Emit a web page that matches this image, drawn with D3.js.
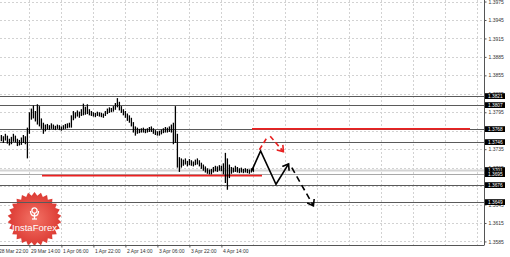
<!DOCTYPE html>
<html>
<head>
<meta charset="utf-8">
<script src="https://cdn.jsdelivr.net/npm/d3@7"></script>
<style>
  html, body { margin: 0; padding: 0; background: #fff; }
  svg { display: block; }
  text { font-family: "Liberation Sans", Arial, sans-serif; }
</style>
</head>
<body>
<svg id="chart" width="510" height="257"></svg>
<script>
// hourly bars, index 0 = 28 Mar 22:00
var highs = [
  1.3757, 1.3758, 1.3756, 1.3760, 1.3757, 1.3752, 1.3755, 1.3760, 1.3757, 1.3752, 1.3750, 1.3754, 1.3758, 1.3756,
  1.3770, 1.3795, 1.3801, 1.3806, 1.3797, 1.3808, 1.3805, 1.3785, 1.3778, 1.3775,
  1.3776, 1.3774, 1.3777, 1.3775, 1.3773, 1.3775, 1.3774, 1.3772, 1.3774, 1.3776, 1.3777, 1.3778,
  1.3790, 1.3797, 1.3795, 1.3798, 1.3796, 1.3800, 1.3809, 1.3804, 1.3808, 1.3800,
  1.3797, 1.3795, 1.3794, 1.3796, 1.3795, 1.3794, 1.3793, 1.3797, 1.3801, 1.3803, 1.3802, 1.3805, 1.3810, 1.3818,
  1.3812, 1.3805, 1.3800, 1.3797, 1.3793, 1.3790, 1.3786, 1.3779, 1.3772,
  1.3770, 1.3768, 1.3769, 1.3770, 1.3768, 1.3769, 1.3771, 1.3772, 1.3769, 1.3766, 1.3764, 1.3765, 1.3767, 1.3769,
  1.3771, 1.3770, 1.3772, 1.3775, 1.3778, 1.3805, 1.3760, 1.3722, 1.3720,
  1.3718, 1.3720, 1.3716, 1.3719, 1.3717, 1.3715, 1.3718, 1.3720, 1.3717, 1.3713, 1.3710, 1.3707, 1.3704, 1.3702,
  1.3703, 1.3706, 1.3708, 1.3707, 1.3709, 1.3708, 1.3712, 1.3729, 1.3720, 1.3710,
  1.3706, 1.3705, 1.3708, 1.3706, 1.3704, 1.3705, 1.3703, 1.3704, 1.3703, 1.3702, 1.3704, 1.3706
];
var lows = [
  1.3746, 1.3748, 1.3745, 1.3749, 1.3744, 1.3741, 1.3743, 1.3747, 1.3746, 1.3740, 1.3741, 1.3742, 1.3745, 1.3743,
  1.3720, 1.3760, 1.3783, 1.3785, 1.3780, 1.3775, 1.3772, 1.3768, 1.3760, 1.3764,
  1.3767, 1.3766, 1.3768, 1.3767, 1.3766, 1.3768, 1.3766, 1.3765, 1.3767, 1.3768, 1.3769, 1.3770,
  1.3770, 1.3782, 1.3785, 1.3788, 1.3786, 1.3789, 1.3790, 1.3791, 1.3792, 1.3790,
  1.3789, 1.3788, 1.3787, 1.3789, 1.3788, 1.3787, 1.3786, 1.3789, 1.3792, 1.3794, 1.3795, 1.3796, 1.3799, 1.3803,
  1.3798, 1.3794, 1.3790, 1.3786, 1.3781, 1.3778, 1.3772, 1.3762, 1.3757,
  1.3760, 1.3761, 1.3762, 1.3762, 1.3761, 1.3762, 1.3763, 1.3763, 1.3760, 1.3758, 1.3757, 1.3757, 1.3759, 1.3761,
  1.3762, 1.3762, 1.3763, 1.3762, 1.3743, 1.3745, 1.3705, 1.3698, 1.3705,
  1.3708, 1.3710, 1.3707, 1.3709, 1.3708, 1.3707, 1.3709, 1.3710, 1.3707, 1.3703, 1.3700, 1.3697, 1.3695, 1.3694,
  1.3694, 1.3697, 1.3699, 1.3698, 1.3700, 1.3699, 1.3694, 1.3680, 1.3669, 1.3688,
  1.3695, 1.3697, 1.3698, 1.3697, 1.3696, 1.3697, 1.3696, 1.3697, 1.3696, 1.3695, 1.3697, 1.3698
];

var timeTicks = [0, 16, 32, 48, 64, 80, 96, 112];
var timeLabels = ['28 Mar 22:00', '29 Mar 14:00', '1 Apr 06:00', '1 Apr 22:00', '2 Apr 14:00', '3 Apr 06:00', '3 Apr 22:00', '4 Apr 14:00'];
var gridIdx = [16, 32, 48, 64, 80, 96, 112, 128, 144, 160, 176, 192, 208, 224, 240];
var priceTicks = [1.3975, 1.3945, 1.3915, 1.3885, 1.3855, 1.3825, 1.3795, 1.3765, 1.3735, 1.3705, 1.3675, 1.3645, 1.3615, 1.3585];
// tick labels that sit fully under a level tag
var coveredTicks = [1.3765, 1.3675];

// horizontal levels and their tags on the price scale
var levels = [1.3821, 1.3807, 1.3768, 1.3746, 1.3701, 1.3695, 1.3676, 1.3649];
var levelTone = ['dark', 'dark', 'dark', 'dark', 'light', 'mid', 'dark', 'dark'];

// red levels: [fromIndex, toIndex, price]
var redLevels = [[127.3, 236.3, 1.3768], [22.3, 132.3, 1.3692]];

// forecast arrows: [index, price]
var blackPath = [[127.2, 1.3700], [131.6, 1.3732], [139.3, 1.3678], [145.6, 1.3711]];
var blackDash = [[147.2, 1.3705], [158.0, 1.3643]];
var redDash1 = [[131.0, 1.3734], [134.8, 1.3754]];
var redDash2 = [[136.4, 1.3756], [143.0, 1.3731]];

var plotRight = 484, plotBottom = 245;

var svg = d3.select('#chart');

var x = d3.scaleLinear().domain([0, 243.3]).range([-2.6, 484]);
var y = d3.scaleLinear().domain([1.35792, 1.39775]).range([plotBottom, 0]);

// grid
svg.append('g').selectAll('line')
  .data(priceTicks)
  .enter().append('line')
  .attr('x1', 0).attr('x2', plotRight)
  .attr('y1', function (d) { return Math.round(y(d)) + 0.5; })
  .attr('y2', function (d) { return Math.round(y(d)) + 0.5; })
  .attr('stroke', '#d2d2d2')
  .attr('stroke-dasharray', '2,2');

svg.append('g').selectAll('line')
  .data(gridIdx)
  .enter().append('line')
  .attr('x1', function (d) { return Math.round(x(d)) + 0.5; })
  .attr('x2', function (d) { return Math.round(x(d)) + 0.5; })
  .attr('y1', 0).attr('y2', plotBottom)
  .attr('stroke', '#d2d2d2')
  .attr('stroke-dasharray', '2,2');

// logo (drawn under the price lines)
var logo = svg.append('g').attr('transform', 'translate(34.5,219)');
var spikes = 26;
var star = d3.range(spikes * 2 + 1).map(function (k) {
  return [k * Math.PI / spikes, k % 2 ? 23.5 : 27];
});
var grad = svg.append('defs').append('radialGradient').attr('id', 'lg');
grad.append('stop').attr('offset', '0%').attr('stop-color', '#f37366');
grad.append('stop').attr('offset', '100%').attr('stop-color', '#dc3a33');
logo.append('path')
  .attr('d', d3.lineRadial().angle(function (d) { return d[0]; }).radius(function (d) { return d[1]; })(star))
  .attr('fill', 'url(#lg)');
var icon = logo.append('g').attr('transform', 'translate(0,-6)').attr('stroke', '#fff').attr('fill', 'none').attr('stroke-width', 1.3);
icon.append('circle').attr('cx', 0).attr('cy', -2.5).attr('r', 2.6);
icon.append('path').attr('d', 'M-4,-2 Q-4,3 0,3 Q4,3 4,-2');
icon.append('line').attr('x1', 0).attr('x2', 0).attr('y1', 0).attr('y2', 6);
icon.append('line').attr('x1', -2.5).attr('x2', 2.5).attr('y1', 6).attr('y2', 6);
logo.append('text')
  .attr('x', 0).attr('y', 12)
  .attr('text-anchor', 'middle')
  .attr('fill', '#fff')
  .attr('font-size', 9.5)
  .text('InstaForex');

// level lines
var toneColor = { dark: '#5a5a5a', mid: '#a8a8a8', light: '#d4d4d4' };
svg.append('g').selectAll('line')
  .data(levels)
  .enter().append('line')
  .attr('x1', 0).attr('x2', plotRight)
  .attr('y1', function (d) { return Math.round(y(d)) + 0.5; })
  .attr('y2', function (d) { return Math.round(y(d)) + 0.5; })
  .attr('stroke', function (d, i) { return toneColor[levelTone[i]]; })
  .attr('stroke-width', function (d, i) { return levelTone[i] == 'light' ? 2 : 1; });

svg.append('g').selectAll('line')
  .data(redLevels)
  .enter().append('line')
  .attr('x1', function (d) { return x(d[0]); })
  .attr('x2', function (d) { return x(d[1]); })
  .attr('y1', function (d) { return y(d[2]); })
  .attr('y2', function (d) { return y(d[2]); })
  .attr('stroke', '#ee2020')
  .attr('stroke-width', 1.6);

// price bars
svg.append('g').selectAll('line')
  .data(highs)
  .enter().append('line')
  .attr('x1', function (d, i) { return x(i + 1); })
  .attr('x2', function (d, i) { return x(i + 1); })
  .attr('y1', function (d) { return y(d); })
  .attr('y2', function (d, i) { return y(lows[i]); })
  .attr('stroke', '#000')
  .attr('stroke-width', 1.3);

// forecast arrows
var defs = svg.select('defs');
function arrowMarker(id, color) {
  defs.append('marker')
    .attr('id', id)
    .attr('viewBox', '-6 -5 8 10')
    .attr('refX', 0).attr('refY', 0)
    .attr('markerWidth', 8).attr('markerHeight', 10)
    .attr('markerUnits', 'userSpaceOnUse')
    .attr('orient', 'auto')
    .append('path')
    .attr('d', 'M-5.5,-4 L0,0 L-5.5,4')
    .attr('fill', 'none')
    .attr('stroke', color)
    .attr('stroke-width', 1.6);
}
arrowMarker('ab', '#000');
arrowMarker('ar', '#e82020');

var fLine = d3.line()
  .x(function (d) { return x(d[0]); })
  .y(function (d) { return y(d[1]); });

svg.append('path').attr('d', fLine(blackPath))
  .attr('fill', 'none').attr('stroke', '#000').attr('stroke-width', 1.6)
  .attr('marker-end', 'url(#ab)');
svg.append('path').attr('d', fLine(blackDash))
  .attr('fill', 'none').attr('stroke', '#000').attr('stroke-width', 1.6)
  .attr('stroke-dasharray', '6,4')
  .attr('marker-end', 'url(#ab)');
svg.append('path').attr('d', fLine(redDash1))
  .attr('fill', 'none').attr('stroke', '#e82020').attr('stroke-width', 1.6)
  .attr('stroke-dasharray', '5,3');
svg.append('path').attr('d', fLine(redDash2))
  .attr('fill', 'none').attr('stroke', '#e82020').attr('stroke-width', 1.6)
  .attr('stroke-dasharray', '5,3')
  .attr('marker-end', 'url(#ar)');

// axes
var yAxis = d3.axisRight(y)
  .tickValues(priceTicks)
  .tickFormat(function (d) { return coveredTicks.indexOf(d) >= 0 ? '' : d3.format('.4f')(d); })
  .tickSize(2)
  .tickPadding(2);

var yG = svg.append('g')
  .attr('transform', 'translate(' + (plotRight + 0.5) + ',0)')
  .call(yAxis);
yG.select('.domain').attr('stroke', '#555').attr('d', 'M0,0V' + plotBottom);
yG.selectAll('.tick line').attr('stroke', '#555');
yG.selectAll('text').attr('font-size', 5).attr('fill', '#333').attr('font-family', 'Liberation Sans, Arial, sans-serif');

var xAxis = d3.axisBottom(x)
  .tickValues(timeTicks)
  .tickFormat(function (d, i) { return timeLabels[i]; })
  .tickSize(2)
  .tickPadding(2);

var xG = svg.append('g')
  .attr('transform', 'translate(0,' + (plotBottom + 0.5) + ')')
  .call(xAxis);
xG.select('.domain').attr('stroke', '#555').attr('d', 'M0,0H' + (plotRight + 0.5));
xG.selectAll('.tick line').attr('stroke', '#555');
xG.selectAll('text')
  .attr('text-anchor', 'start')
  .attr('x', 1)
  .attr('font-size', 5)
  .attr('fill', '#333')
  .attr('font-family', 'Liberation Sans, Arial, sans-serif');

// level tags on the price scale
var tags = svg.append('g').selectAll('g')
  .data(levels)
  .enter().append('g')
  .attr('transform', function (d) { return 'translate(' + (plotRight + 1) + ',' + Math.round(y(d)) + ')'; });
tags.append('rect')
  .attr('x', 0).attr('y', -2.8)
  .attr('width', 20).attr('height', 5.8)
  .attr('fill', '#000');
tags.append('text')
  .attr('x', 3).attr('y', 1.8)
  .attr('font-size', 4.8)
  .attr('fill', '#fff')
  .text(function (d) { return d3.format('.4f')(d); });
</script>
</body>
</html>
